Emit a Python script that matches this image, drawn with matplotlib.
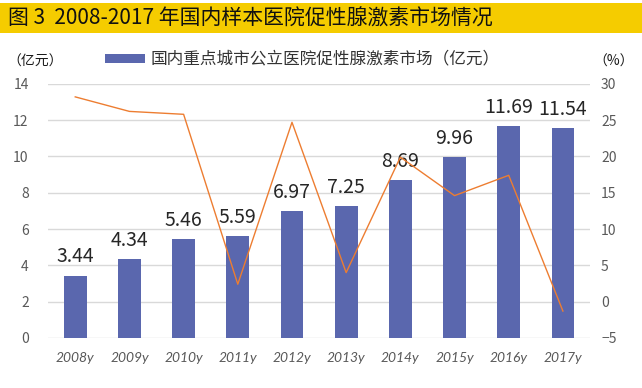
import numpy as np
import matplotlib
matplotlib.use('Agg')
import matplotlib.pyplot as plt
from matplotlib.patches import Rectangle

plt.rcParams['font.family'] = ['Noto Sans CJK SC', 'DejaVu Sans']

years = ['2008y', '2009y', '2010y', '2011y', '2012y', '2013y', '2014y', '2015y', '2016y', '2017y']
market = [3.44, 4.34, 5.46, 5.59, 6.97, 7.25, 8.69, 9.96, 11.69, 11.54]
growth = [28.2, 26.2, 25.8, 2.4, 24.7, 4.0, 19.9, 14.6, 17.4, -1.3]

bar_color = '#5A67AE'
line_color = '#ED7D31'
tick_color = '#595959'

fig = plt.figure(figsize=(6.42, 3.88), dpi=100)

# title bar
fig.patches.append(Rectangle((0, 0.915), 1, 0.077, transform=fig.transFigure,
                             facecolor='#F5CC00', edgecolor='none', zorder=0))
fig.text(0.012, 0.953, '图 3  2008-2017 年国内样本医院促性腺激素市场情况',
         fontsize=15, fontweight='medium', va='center', ha='left', color='#111111')

ax = fig.add_axes([0.075, 0.129, 0.844, 0.655])
x = np.arange(len(years))
ax.bar(x, market, width=0.42, color=bar_color, zorder=3)
ax.set_ylim(0, 14)
ax.set_yticks(np.arange(0, 15, 2))
ax.set_xlim(-0.5, len(years) - 0.5)
ax.grid(axis='y', color='#D9D9D9', lw=1, zorder=0)
ax.set_xticks(x)
ax.set_xticklabels(years, fontstyle='italic', fontsize=10, color=tick_color, family=['Lato'])
for sp in ax.spines.values():
    sp.set_visible(False)
ax.tick_params(axis='both', length=0, colors=tick_color, labelsize=10)
ax.tick_params(axis='x', pad=10)
ax.tick_params(axis='y', pad=14)

for xi, v in zip(x, market):
    ax.text(xi, v + 0.45, f'{v:.2f}', ha='center', va='bottom', fontsize=14, color='#262626', zorder=4)

ax2 = ax.twinx()
ax2.plot(x, growth, color=line_color, lw=1, zorder=5)
ax2.set_ylim(-5, 30)
ax2.set_yticks(np.arange(-5, 31, 5))
for sp in ax2.spines.values():
    sp.set_visible(False)
ax2.tick_params(axis='y', length=0, colors=tick_color, labelsize=10, pad=8)

# unit labels
fig.text(0.012, 0.84, '（亿元）', fontsize=10, ha='left', va='center', color='#1a1a1a')
fig.text(0.925, 0.84, '（%）', fontsize=10, ha='left', va='center', color='#1a1a1a')

# legend
fig.patches.append(Rectangle((0.163, 0.837), 0.063, 0.024, transform=fig.transFigure,
                             facecolor=bar_color, edgecolor='none'))
fig.text(0.235, 0.849, '国内重点城市公立医院促性腺激素市场（亿元）', fontsize=12,
         fontweight='medium', ha='left', va='center', color='#333333')

fig.savefig('out.png', dpi=100)
